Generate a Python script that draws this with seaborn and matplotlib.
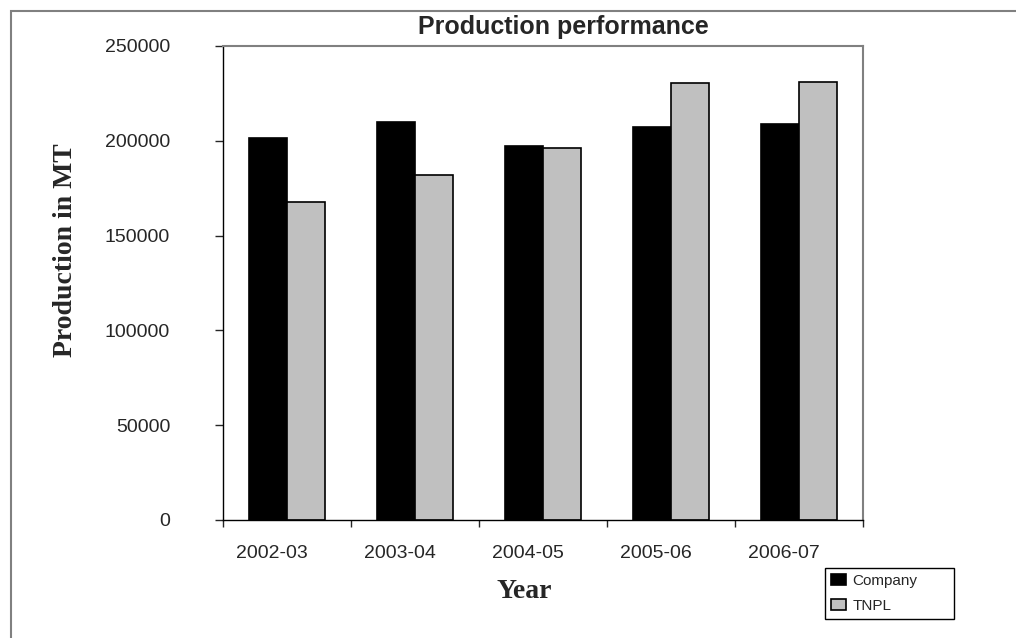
import numpy as np
import matplotlib
matplotlib.use('Agg')
import matplotlib.pyplot as plt
import matplotlib.transforms as mtransforms
from matplotlib.patches import Rectangle
import pandas as pd
import seaborn as sns

# 数据
years = ['2002-03', '2003-04', '2004-05', '2005-06', '2006-07']
company = [201400, 210100, 197300, 207500, 208900]
tnpl = [167800, 182000, 196400, 230300, 231000]
series_names = ['Company', 'TNPL']
y_ticks = [0, 50000, 100000, 150000, 200000, 250000]

df = pd.DataFrame({
    'Year': years * 2,
    'Production': company + tnpl,
    'Series': ['Company'] * len(years) + ['TNPL'] * len(years),
})

sns.set_style('ticks')
plt.rcParams['font.family'] = ['Liberation Sans', 'DejaVu Sans']

W, H = 1016, 638
fig = plt.figure(figsize=(W / 100, H / 100), dpi=100)
ax = fig.add_axes([223 / W, 1 - 520 / H, (863 - 223) / W, (520 - 46) / H])

sns.barplot(data=df, x='Year', y='Production', hue='Series', hue_order=series_names,
            palette=['black', '#C0C0C0'], width=0.6, edgecolor='black', linewidth=1.2,
            errorbar=None, saturation=1, ax=ax)

ax.set_xlim(-0.5, len(years) - 0.5)
ax.set_ylim(0, 250000)
ax.set_yticks(y_ticks)
ax.set_yticklabels([str(v) for v in y_ticks])

# 坐标轴样式
for side in ['left', 'bottom']:
    ax.spines[side].set_color('black')
    ax.spines[side].set_linewidth(1.0)
for side in ['top', 'right']:
    ax.spines[side].set_visible(True)
    ax.spines[side].set_color('#808080')
    ax.spines[side].set_linewidth(1.5)

ax.tick_params(axis='y', direction='out', length=6, width=1, pad=32, labelsize=14)
ax.tick_params(axis='x', which='major', length=0, pad=18, labelsize=14)
ax.set_xticks(np.arange(-0.5, len(years), 1), minor=True)
ax.tick_params(axis='x', which='minor', direction='out', length=5, width=1)

# 类别标签左移
offset = mtransforms.ScaledTranslation(-15 / 100, 0, fig.dpi_scale_trans)
for lab in ax.get_xticklabels():
    lab.set_transform(lab.get_transform() + offset)

# 轴标题
ax.set_xlabel('Year', family=['Liberation Serif', 'DejaVu Serif'], fontsize=20,
              fontweight='bold', va='center')
ax.xaxis.set_label_coords((524 - 223) / 640, -(592 - 520) / 474)
ax.set_ylabel('Production in MT', family=['Liberation Serif', 'DejaVu Serif'], fontsize=20,
              fontweight='bold', va='center')
ax.yaxis.set_label_coords((66 - 223) / 640, (520 - 250) / 474)

fig.text(563 / W, 1 - 27 / H, 'Production performance', ha='center', va='center',
         fontsize=18, fontweight='bold')

# 图例
sns.move_legend(ax, 'upper left', bbox_to_anchor=(825 / W, 1 - 619 / H, 129 / W, 51 / H),
                bbox_transform=fig.transFigure, mode='expand', title=None, fontsize=11,
                frameon=True, fancybox=False, shadow=False, framealpha=1,
                edgecolor='black', borderpad=0.4, labelspacing=0.7,
                handlelength=1.0, handleheight=0.7, handletextpad=0.4,
                borderaxespad=0)
leg = ax.get_legend()
leg.get_frame().set_linewidth(1.0)
for h in leg.legend_handles:
    h.set_edgecolor('black')
    h.set_linewidth(1.2)

# 外边框
fig.patches.append(Rectangle((11 / W, -0.1), 1.2, 1 - 11 / H + 0.1, transform=fig.transFigure,
                             fill=False, edgecolor='#808080', linewidth=1.5))

fig.savefig('out.png', dpi=100)
